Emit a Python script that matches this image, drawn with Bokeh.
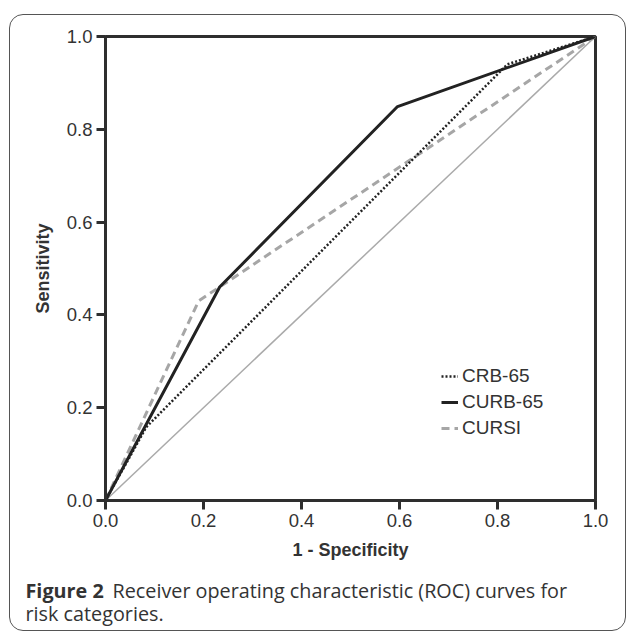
from bokeh.plotting import figure
from bokeh.layouts import column
from bokeh.models import Range1d, Legend, LegendItem, Label, FixedTicker, PrintfTickFormatter, InlineStyleSheet
from bokeh.embed import file_html
from bokeh.resources import INLINE

# ---- data ----
axis_ticks = [0.0, 0.2, 0.4, 0.6, 0.8, 1.0]
series_names = ["CRB-65", "CURB-65", "CURSI"]
crb65_fpr = [0.0, 0.083, 0.82, 1.0]
crb65_tpr = [0.0, 0.158, 0.94, 1.0]
curb65_fpr = [0.0, 0.233, 0.596, 1.0]
curb65_tpr = [0.0, 0.46, 0.849, 1.0]
cursi_fpr = [0.0, 0.19, 1.0]
cursi_tpr = [0.0, 0.43, 1.0]
ref_fpr = [0.0, 1.0]
ref_tpr = [0.0, 1.0]
x_label = "1 - Specificity"
y_label = "Sensitivity"
caption_bold = "Figure 2"
caption_line1 = "Receiver operating characteristic (ROC) curves for"
caption_line2 = "risk categories."

TXT = "#333333"
AX = "#2e2e2e"
FONT = "Liberation Sans"
CAP_FONT = "Open Sans"

W = 629
MAIN_H = 578
CAP_H = 54

p = figure(width=W, height=MAIN_H, output_backend="svg", toolbar_location=None,
           x_range=Range1d(0, 1), y_range=Range1d(0, 1),
           min_border_left=105, min_border_right=W - 105 - 490,
           min_border_top=36, min_border_bottom=MAIN_H - 36 - 464)
p.frame_align = False
p.grid.visible = False
p.background_fill_color = "white"
p.border_fill_color = "white"
p.outline_line_color = AX
p.outline_line_width = 3

for ax in (p.xaxis[0], p.yaxis[0]):
    ax.ticker = FixedTicker(ticks=axis_ticks)
    ax.formatter = PrintfTickFormatter(format="%.1f")
    ax.axis_line_color = AX
    ax.axis_line_width = 3
    ax.major_tick_line_color = AX
    ax.major_tick_line_width = 3
    ax.major_tick_out = 9
    ax.major_tick_in = 0
    ax.minor_tick_line_color = None
    ax.major_label_text_font = FONT
    ax.major_label_text_font_size = "18.5px"
    ax.major_label_text_color = TXT
    ax.major_label_standoff = 4
    ax.axis_label_text_font = FONT
    ax.axis_label_text_font_size = "18px"
    ax.axis_label_text_font_style = "bold"
    ax.axis_label_text_color = TXT

p.xaxis.axis_label = x_label
p.yaxis.axis_label = y_label
p.xaxis.axis_label_standoff = 10
p.yaxis.axis_label_standoff = 11

# reference diagonal
p.line(ref_fpr, ref_tpr, line_color="#aaaaaa", line_width=1.5)
r_cursi = p.line(cursi_fpr, cursi_tpr, line_color="#a6a6a6", line_width=3, line_dash="8 5")
r_crb = p.line(crb65_fpr, crb65_tpr, line_color="#222222", line_width=2.5, line_dash="2 2")
r_curb = p.line(curb65_fpr, curb65_tpr, line_color="#222222", line_width=3)

legend = Legend(items=[LegendItem(label=series_names[0], renderers=[r_crb]),
                       LegendItem(label=series_names[1], renderers=[r_curb]),
                       LegendItem(label=series_names[2], renderers=[r_cursi])],
                location=(336, 61), orientation="vertical",
                glyph_width=17, glyph_height=20, label_height=20, label_standoff=4,
                spacing=4, padding=0, margin=0,
                border_line_color=None, background_fill_alpha=0,
                label_text_font=FONT, label_text_font_size="19px", label_text_color=TXT)
p.add_layout(legend)

# caption panel (its frame covers its whole canvas; y grows downward)
cap = figure(width=W, height=CAP_H, output_backend="svg", toolbar_location=None,
             x_range=Range1d(0, W), y_range=Range1d(CAP_H, 0),
             x_axis_location=None, y_axis_location=None, min_border=0,
             min_border_left=0, min_border_right=0, min_border_top=0, min_border_bottom=0)
cap.frame_align = False
cap.grid.visible = False
cap.outline_line_color = None
cap.background_fill_color = "white"
cap.border_fill_color = "white"

cap.add_layout(Label(x=25, y=12, text=caption_bold, text_font=CAP_FONT,
                     text_font_size="19.8px", text_font_style="bold", text_color=TXT,
                     text_baseline="middle"))
cap.add_layout(Label(x=112, y=12, text=caption_line1, text_font=CAP_FONT,
                     text_font_size="19.8px", text_color=TXT, text_baseline="middle"))
cap.add_layout(Label(x=25, y=35, text=caption_line2, text_font=CAP_FONT,
                     text_font_size="19.8px", text_color=TXT, text_baseline="middle"))

# outer rounded frame around figure + caption
frame_css = InlineStyleSheet(css="""
:host { position: relative; }
:host::after { content: ''; position: absolute; left: 9px; top: 14px; width: 617px; height: 617px;
  box-sizing: border-box; border: 1.5px solid #555555; border-radius: 14px; pointer-events: none; }
""")
layout = column(p, cap, spacing=0, stylesheets=[frame_css])

open("out.html", "w").write(file_html(layout, INLINE))
